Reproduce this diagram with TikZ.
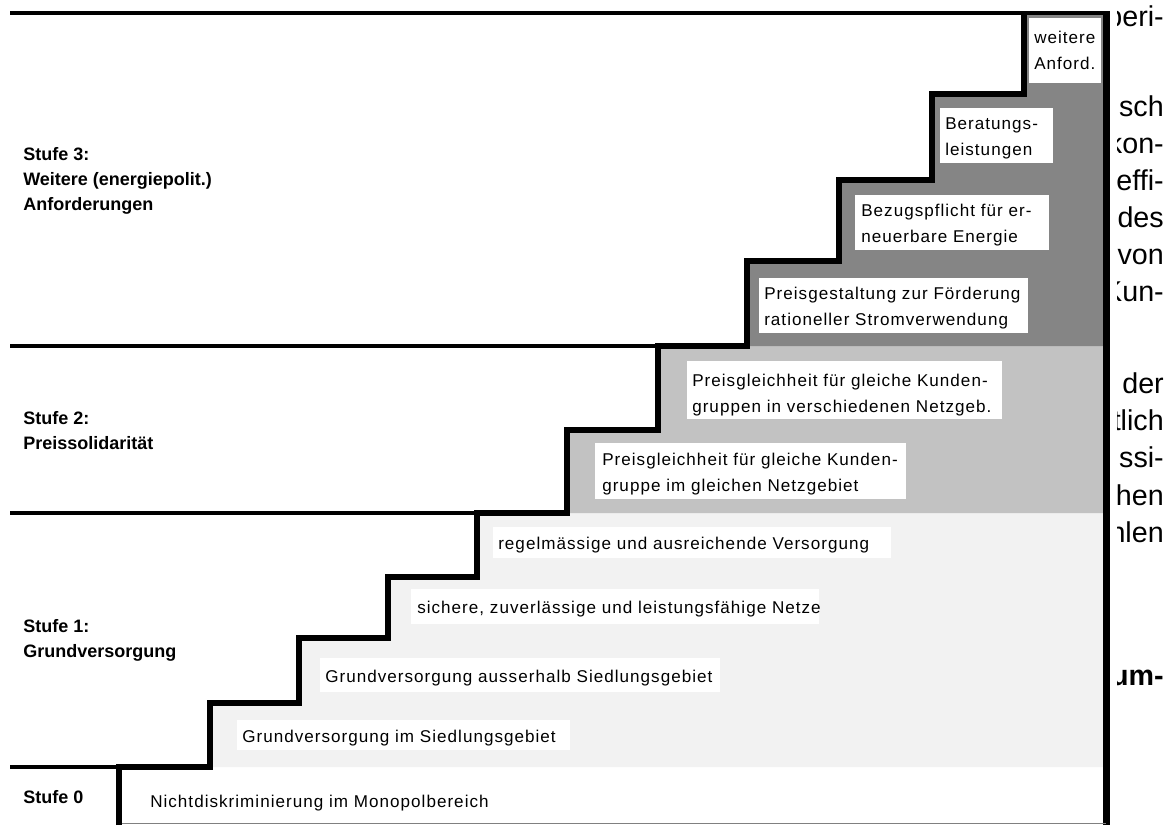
\documentclass[tikz,border=0pt]{standalone}
\usepackage{fontspec}
\setmainfont{Liberation Sans}
\newfontfamily\reqfont{Liberation Sans}[LetterSpace=6]

\definecolor{stageone}{gray}{0.95}
\definecolor{stagetwo}{gray}{0.76}
\definecolor{stagethree}{gray}{0.52}

\begin{document}
\begin{tikzpicture}[
    x=0.75pt, y=-0.75pt,
    stair/.style={line width=4.1pt},
    divider/.style={line width=2.6pt},
    reqbox/.style={fill=white},
    req/.style={anchor=base west, inner sep=0pt, align=left, font=\reqfont\fontsize{12.8}{19.5}\selectfont},
    stage/.style={anchor=base west, inner sep=0pt, align=left, font=\bfseries\fontsize{13.5}{18.75}\selectfont},
    frag/.style={anchor=base east, inner sep=0pt, font=\fontsize{21.5}{28}\selectfont}
]
\useasboundingbox (0,0) rectangle (1173,825);

% Shaded stages below the stairs
\fill[stageone] (210,767) -- (210,703) -- (299,703) -- (299,638) -- (388,638) -- (388,577)
    -- (477,577) -- (477,513) -- (1106,513) -- (1106,767) -- cycle;
\fill[stagetwo] (567,513) -- (567,430) -- (658,430) -- (658,346) -- (1106,346) -- (1106,513) -- cycle;
\fill[stagethree] (747,346) -- (747,261) -- (839,261) -- (839,180) -- (932,180) -- (932,94)
    -- (1024,94) -- (1024,13) -- (1106,13) -- (1106,346) -- cycle;

% White boxes of the single requirements
\fill[reqbox] (237,720) rectangle (570,750);
\fill[reqbox] (320,658) rectangle (720,692);
\fill[reqbox] (411,589) rectangle (819,624);
\fill[reqbox] (493,527) rectangle (891,558);
\fill[reqbox] (595,443) rectangle (906,499);
\fill[reqbox] (687,361) rectangle (1002,419);
\fill[reqbox] (759,278) rectangle (1028,333);
\fill[reqbox] (855,195) rectangle (1049,250);
\fill[reqbox] (940,108) rectangle (1053,163);
\fill[reqbox] (1029,18) rectangle (1101,83);

% Stage dividers and frame
\draw[divider] (10,767) -- (119,767);
\draw[divider] (10,513) -- (477,513);
\draw[divider] (10,346) -- (658,346);
\draw[line width=3.4pt] (10,13) -- (1110,13);
\draw[line width=5.2pt] (1106.5,11) -- (1106.5,825);
\draw[gray, line width=0.8pt] (119,823.5) -- (1106,823.5);

% The staircase
\draw[stair] (119,825) -- (119,767) -- (210,767) -- (210,703) -- (299,703) -- (299,638)
    -- (388,638) -- (388,577) -- (477,577) -- (477,513) -- (567,513) -- (567,430)
    -- (658,430) -- (658,346) -- (747,346) -- (747,261) -- (839,261) -- (839,180)
    -- (932,180) -- (932,94) -- (1024,94) -- (1024,11);

% Stage labels (placed at the baseline of their last line)
\node[stage] (s3) at (23,210) {Stufe 3:\\Weitere (energiepolit.)\\Anforderungen};
\node[stage] (s2) at (23,449) {Stufe 2:\\Preissolidarität};
\node[stage] (s1) at (23,657) {Stufe 1:\\Grundversorgung};
\node[stage] (s0) at (23,803) {Stufe 0};

% Requirements, step by step
\node[req] (r0) at (150,807) {Nichtdiskriminierung im Monopolbereich};
\node[req] (r1) at (242,742) {Grundversorgung im Siedlungsgebiet};
\node[req] (r2) at (325,682) {Grundversorgung ausserhalb Siedlungsgebiet};
\node[req] (r3) at (417,613) {sichere, zuverlässige und leistungsfähige Netze};
\node[req] (r4) at (498,549) {regelmässige und ausreichende Versorgung};
\node[req] (r5) at (602,491) {Preisgleichheit für gleiche Kunden-\\gruppe im gleichen Netzgebiet};
\node[req] (r6) at (692,412) {Preisgleichheit für gleiche Kunden-\\gruppen in verschiedenen Netzgeb.};
\node[req] (r7) at (764,325) {Preisgestaltung zur Förderung\\rationeller Stromverwendung};
\node[req] (r8) at (861,242) {Bezugspflicht für er-\\neuerbare Energie};
\node[req] (r9) at (945,155) {Beratungs-\\leistungen};
\node[req] (r10) at (1034,69) {weitere\\Anford.};

% Cut-off text of the page beside the figure
\begin{scope}
\clip (1117,0) rectangle (1173,825);
\node[frag] (f1) at (1164,26) {peri-};
\node[frag] (f2) at (1164,116) {sch};
\node[frag] (f3) at (1164,153) {kon-};
\node[frag] (f4) at (1164,190) {effi-};
\node[frag] (f5) at (1164,227) {des};
\node[frag] (f6) at (1164,264) {von};
\node[frag] (f7) at (1164,301) {Kun-};
\node[frag] (f8) at (1164,393) {der};
\node[frag] (f9) at (1164,430) {tlich};
\node[frag] (f10) at (1164,467) {ssi-};
\node[frag] (f11) at (1164,505) {hen};
\node[frag] (f12) at (1164,542) {hlen};
\node[frag, font=\bfseries\fontsize{21.5}{28}\selectfont] (f13) at (1164,685) {um-};
\end{scope}

\end{tikzpicture}
\end{document}
